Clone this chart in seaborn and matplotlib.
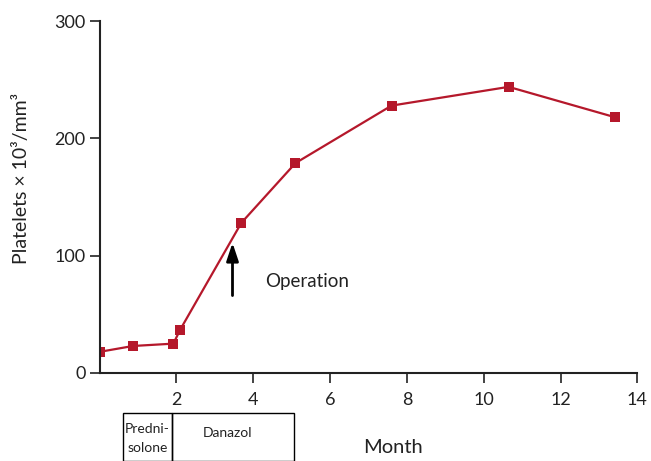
import pandas as pd
import matplotlib.pyplot as plt
import matplotlib.patches as mpatches
import matplotlib.transforms as mtransforms
import seaborn as sns

# Datos
meses = [0.0, 0.87, 1.92, 2.1, 3.69, 5.1, 7.6, 10.65, 13.43]
plaquetas = [18, 23, 25, 37, 128, 179, 228, 244, 218]
x_ticks = [2, 4, 6, 8, 10, 12, 14]
y_ticks = [0, 100, 200, 300]

df = pd.DataFrame({'mes': meses, 'plaquetas': plaquetas})

sns.set_theme(style='ticks')
plt.rcParams['font.family'] = ['Lato', 'DejaVu Sans']
rojo = '#B5182B'
gris = '#222222'

fig = plt.figure(figsize=(6.51, 4.61), dpi=100)
ax = fig.add_axes([0.153, 0.191, 0.826, 0.763])

sns.lineplot(data=df, x='mes', y='plaquetas', ax=ax, color=rojo,
             marker='s', markersize=7, markeredgewidth=0, linewidth=1.6)

ax.set_xlim(0, 14)
ax.set_ylim(0, 300)
ax.set_xticks(x_ticks)
ax.set_yticks(y_ticks)
ax.tick_params(labelsize=13, colors=gris, length=7, width=1.2)
ax.tick_params(axis='x', pad=7)
ax.tick_params(axis='y', pad=3)
for s in ['left', 'bottom']:
    ax.spines[s].set_linewidth(1.5)
    ax.spines[s].set_color(gris)
sns.despine(ax=ax)

ax.set_xlabel('')
ax.set_ylabel('Platelets × 10³/mm³', fontsize=14, color=gris)
ax.yaxis.set_label_coords(-0.13, 0.554)

# Flecha de la operación
ax.annotate('', xy=(3.46, 111), xytext=(3.46, 66),
            arrowprops=dict(arrowstyle='-|>,head_length=0.6,head_width=0.2',
                            color='black', lw=2, mutation_scale=18,
                            shrinkA=0, shrinkB=0))
ax.text(4.3, 78, 'Operation', fontsize=13.5, color=gris, va='center', ha='left')

# Tabla de tratamientos bajo el eje
trans = mtransforms.blended_transform_factory(ax.transData, ax.transAxes)
y0, y1 = -0.25, -0.114
for a, b in [(0.6, 1.89), (1.89, 5.05)]:
    ax.add_patch(mpatches.Rectangle((a, y0), b - a, y1 - y0, transform=trans,
                                    fill=False, edgecolor='black', lw=1.0, clip_on=False))
ax.text(1.245, -0.158, 'Predni-', transform=trans, fontsize=10, ha='center', va='center', color=gris)
ax.text(1.245, -0.214, 'solone', transform=trans, fontsize=10, ha='center', va='center', color=gris)
ax.text(3.33, -0.172, 'Danazol', transform=trans, fontsize=10, ha='center', va='center', color=gris)
ax.text(7.63, -0.212, 'Month', transform=trans, fontsize=14.5, ha='center', va='center', color=gris)

plt.savefig('out.png', dpi=100)
